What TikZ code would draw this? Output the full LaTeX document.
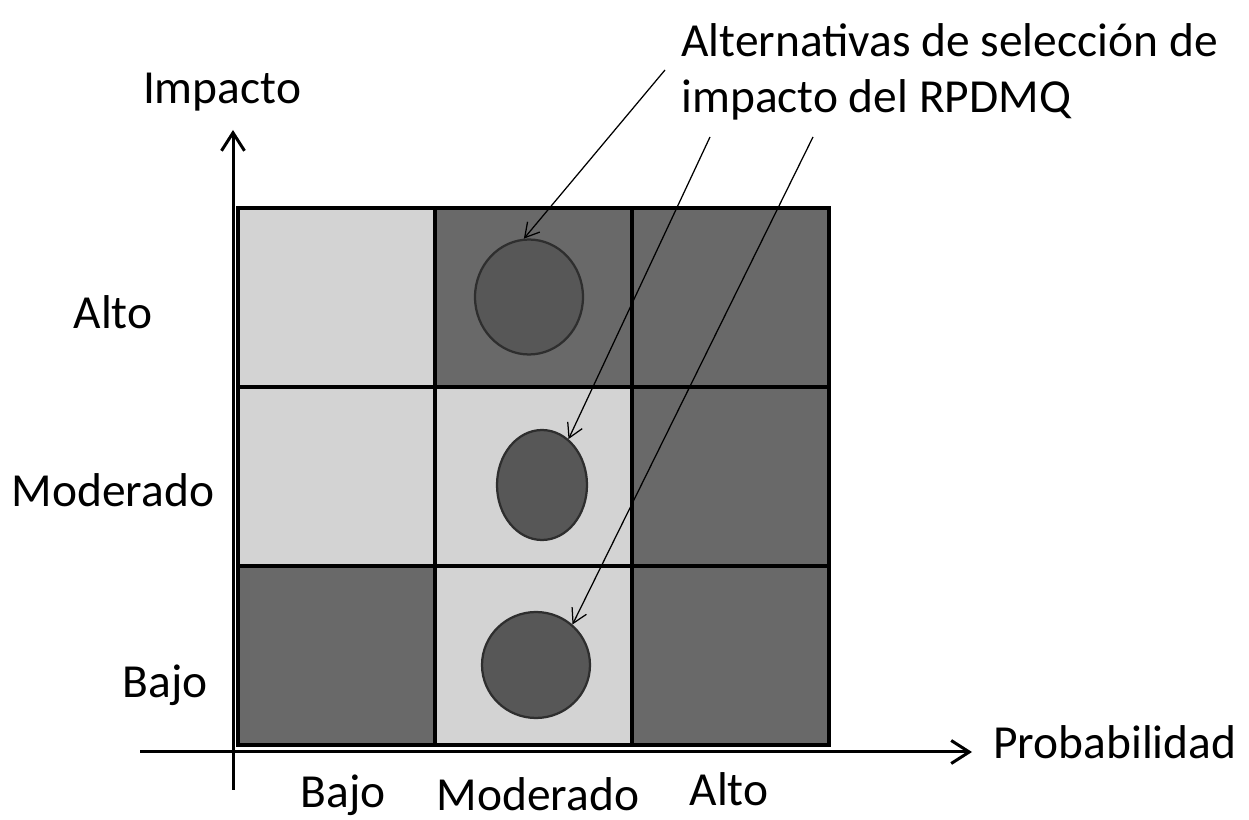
\documentclass[tikz,border=0pt]{standalone}
\usepackage{fontspec}
\setmainfont{Carlito}
\usetikzlibrary{arrows.meta,positioning,shapes.geometric}
\definecolor{riskdark}{HTML}{696969}
\definecolor{risklight}{HTML}{D3D3D3}
\definecolor{dotgray}{HTML}{575757}
\definecolor{dotedge}{HTML}{2E2E2E}
\tikzset{
  cell/.style={
    draw=black,
    line width=0.8mm,
    minimum width=3.94cm,
    minimum height=3.58cm,
    inner sep=0pt
  },
  darkcell/.style={cell, fill=riskdark},
  lightcell/.style={cell, fill=risklight},
  choice/.style={
    ellipse,
    draw=dotedge,
    line width=0.45mm,
    fill=dotgray,
    inner sep=0pt
  },
  axis/.style={-{Straight Barb[length=3.6mm,width=4.6mm]}, line width=0.6mm},
  pointer/.style={-{Straight Barb[length=2.8mm,width=3.2mm]}, line width=0.25mm},
  label/.style={font=\fontsize{27}{32}\selectfont, inner sep=0pt}
}

\begin{document}
\begin{tikzpicture}[x=0.02cm, y=-0.02cm]
\useasboundingbox[fill=white] (0,0) rectangle (1249,820);

% Risk matrix cells (rows: impact, columns: probability)
\node[lightcell] (hb) at (336.5,297.5) {};
\node[darkcell]  (hm) at (533.5,297.5) {};
\node[darkcell]  (ha) at (730.5,297.5) {};
\node[lightcell] (mb) at (336.5,476.5) {};
\node[lightcell] (mm) at (533.5,476.5) {};
\node[darkcell]  (ma) at (730.5,476.5) {};
\node[darkcell]  (lb) at (336.5,655.5) {};
\node[lightcell] (lm) at (533.5,655.5) {};
\node[darkcell]  (la) at (730.5,655.5) {};

% Selected alternatives
\node[choice, minimum width=2.16cm, minimum height=2.3cm] (selhigh) at (529,297) {};
\node[choice, minimum width=1.8cm, minimum height=2.2cm] (selmid) at (542,485) {};
\node[choice, minimum width=2.16cm, minimum height=2.12cm] (sellow) at (536,665) {};

% Axes
\coordinate (yfoot) at (233,790);
\coordinate (ytop) at (233,130);
\coordinate (xfoot) at (140,752);
\coordinate (xend) at (972,752);
\draw[axis] (yfoot) -- (ytop);
\draw[axis] (xfoot) -- (xend);

% Axis labels
\node[label] (impact) at (222,92) {Impacto};
\node[label, anchor=west] (prob) at (993,742) {Probabilidad};
\node[label] (ihigh) at (113,312) {Alto};
\node[label] (imid) at (113,490) {Moderado};
\node[label] (ilow) at (165,685) {Bajo};
\node[label] (plow) at (343,795) {Bajo};
\node[label] (pmid) at (538,794) {Moderado};
\node[label] (phigh) at (729,789) {Alto};

% Callout
\node[label, anchor=west, align=left] (callout) at (681,72)
  {Alternativas de selección de\\impacto del RPDMQ};
\coordinate (tailhigh) at (665,70);
\coordinate (tailmid) at (710,137);
\coordinate (taillow) at (813,137);
\draw[pointer] (tailhigh) -- (selhigh.95);
\draw[pointer] (tailmid) -- (selmid.60);
\draw[pointer] (taillow) -- (sellow.48);

\end{tikzpicture}
\end{document}
